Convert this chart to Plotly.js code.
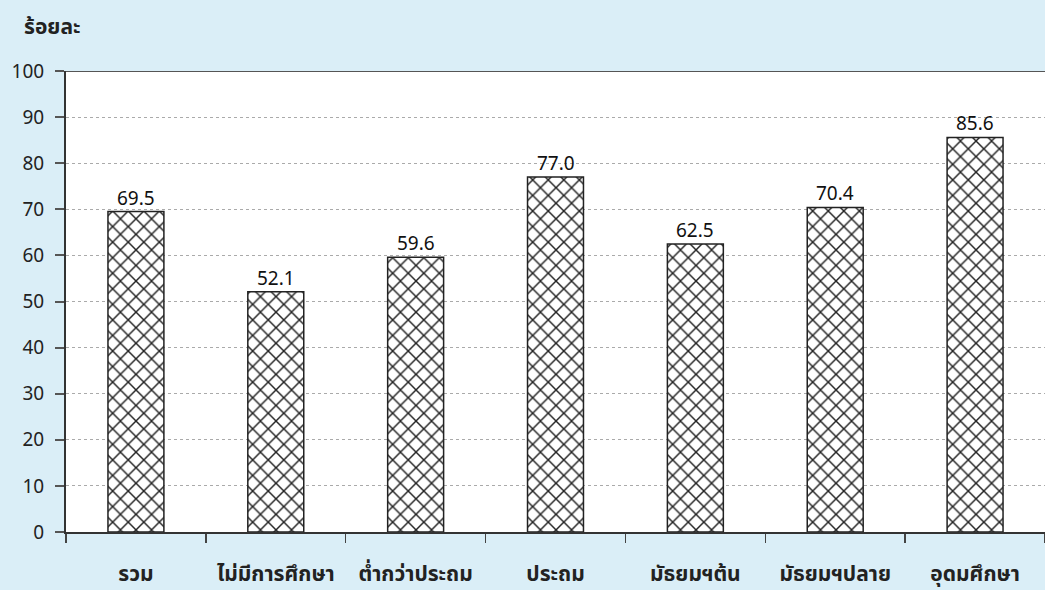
<!DOCTYPE html>
<html><head><meta charset="utf-8">
<script src="https://cdn.plot.ly/plotly-3.0.1.min.js"></script>
<style>body{margin:0;padding:0;background:#daeef7}</style>
</head><body>
<div id="chart" style="width:1045px;height:590px"></div>
<script>
const categories = ["รวม","ไม่มีการศึกษา","ต่ำกว่าประถม","ประถม","มัธยมฯต้น","มัธยมฯปลาย","อุดมศึกษา"];
const values = [69.5, 52.1, 59.6, 77.0, 62.5, 70.4, 85.6];
const valueLabels = ["69.5","52.1","59.6","77.0","62.5","70.4","85.6"];
const yTicks = [0,10,20,30,40,50,60,70,80,90,100];

const FONT = "Tahoma, 'Noto Sans Thai', 'Noto Sans', 'DejaVu Sans', sans-serif";

const labelAnnotations = categories.map((c, i) => ({
  x: c, y: values[i], xref: "x", yref: "y",
  text: valueLabels[i], showarrow: false,
  xanchor: "center", yanchor: "bottom", yshift: -4,
  font: {family: FONT, size: 19, color: "#111"}
}));

Plotly.newPlot("chart", [{
  type: "bar",
  x: categories,
  y: values,
  marker: {
    color: "#ffffff",
    line: {color: "#222", width: 1.5},
    pattern: {shape: "x", fgcolor: "#222", bgcolor: "#ffffff", size: 11, solidity: 0.25}
  },
  hoverinfo: "none"
}], {
  width: 1045, height: 590,
  paper_bgcolor: "#daeef7",
  plot_bgcolor: "#ffffff",
  margin: {l: 66, r: 0, t: 71, b: 58},
  bargap: 0.6,
  showlegend: false,
  font: {family: FONT, color: "#222"},
  title: {text: "<b>ร้อยละ</b>", x: 0, xref: "container", xanchor: "left", y: 1, yref: "container", yanchor: "top", pad: {t: 19, l: 24}, font: {family: FONT, size: 21, color: "#222"}},
  annotations: labelAnnotations,
  xaxis: {
    type: "category",
    tickson: "boundaries",
    ticks: "outside", ticklen: 9, tickcolor: "#444", tickwidth: 1.5,
    showline: true, linecolor: "#333", linewidth: 2,
    showgrid: false,
    ticklabelstandoff: 22,
    tickfont: {family: FONT, size: 21, color: "#222"},
    tickvals: categories,
    ticktext: categories.map(c => "<b>" + c + "</b>")
  },
  yaxis: {
    range: [0, 100],
    tickvals: yTicks,
    ticktext: yTicks.map(String),
    ticks: "outside", ticklen: 9, tickcolor: "#555", tickwidth: 2,
    showline: true, linecolor: "#333", linewidth: 2,
    showgrid: true, gridcolor: "#aaa", griddash: "3px,3px", gridwidth: 1,
    zeroline: false,
    ticklabelstandoff: 7,
    tickfont: {family: FONT, size: 19, color: "#222"}
  },
  shapes: [{type: "line", xref: "paper", yref: "y", x0: 0, x1: 1, y0: 100, y1: 100, line: {color: "#555", width: 2}}]
}, {displayModeBar: false, staticPlot: true});
</script>
</body></html>
